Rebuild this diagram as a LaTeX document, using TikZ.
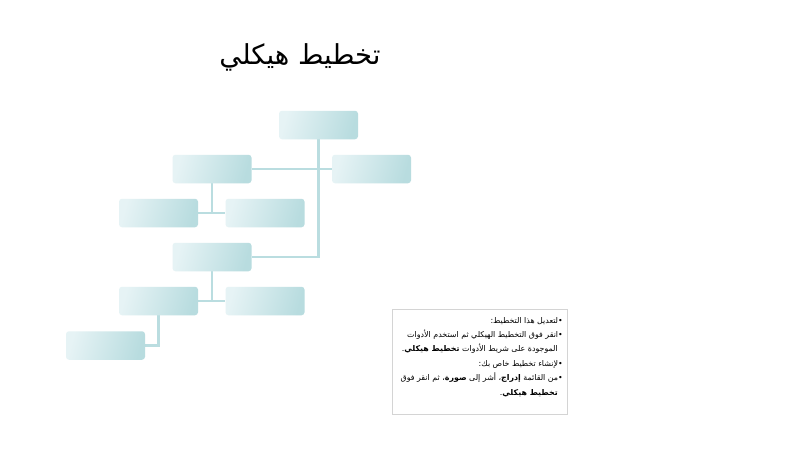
\documentclass[tikz,border=0pt]{standalone}
\usepackage{fontspec}
\newfontfamily\arabicfont[Script=Arabic]{DejaVu Sans}
\TeXXeTstate=1
\definecolor{boxA}{HTML}{E6F3F5}
\definecolor{boxB}{HTML}{B8DCDF}
\definecolor{linkC}{HTML}{BADDE0}
\definecolor{frameC}{HTML}{D4D4D4}
\pgfdeclarelayer{bg}
\pgfdeclarelayer{links}
\pgfsetlayers{bg,links,main}
\tikzset{
  orgbox/.style={minimum width=79pt, minimum height=28.5pt, inner sep=0pt,
    rounded corners=3pt, left color=boxA, right color=boxB, shading angle=75},
  link/.style={draw=linkC, line width=2.6pt},
  bodyline/.style={anchor=base east, inner sep=0pt, font=\arabicfont\fontsize{7.9}{10}\selectfont}
}
\begin{document}
\begin{tikzpicture}[x=1pt,y=-1pt]
\begin{pgfonlayer}{bg}
\fill[white] (0,0) rectangle (796,450);
\end{pgfonlayer}
\useasboundingbox (0,0) rectangle (796,450);
% title
\node[font=\arabicfont\fontsize{27.5}{32}\selectfont, inner sep=0pt] (title) at (300,57) {\beginR تخطيط هيكلي\endR};
% boxes
\node[orgbox] (top) at (318.5,125) {};
\node[orgbox] (r2l) at (212,169) {};
\node[orgbox] (r2r) at (371.5,169) {};
\node[orgbox] (r3l) at (158.5,213) {};
\node[orgbox] (r3r) at (265,213) {};
\node[orgbox] (r4) at (212,257) {};
\node[orgbox] (r5l) at (158.5,301) {};
\node[orgbox] (r5r) at (265,301) {};
\node[orgbox] (r6) at (105.5,345.5) {};
% connectors
\begin{pgfonlayer}{links}
\draw[link] (top.south) |- (r4.east);
\draw[link] (r2l.east) -- (r2r.west);
\draw[link] (r2l.south) -- (r2l.south |- r3l.east);
\draw[link] (r3l.east) -- (r3r.west);
\draw[link] (r4.south) -- (r4.south |- r5l.east);
\draw[link] (r5l.east) -- (r5r.west);
\draw[link] (r5l.south) |- (r6.east);
\end{pgfonlayer}
% text frame
\node[draw=frameC, line width=0.6pt, minimum width=175pt, minimum height=105pt, inner sep=0pt] (frame) at (479.5,361.5) {};
\node[bodyline] (t1) at (563,323) {\beginR •لتعديل هذا التخطيط:\endR};
\node[bodyline] (t2) at (563,337.4) {\beginR •انقر فوق التخطيط الهيكلي ثم استخدم الأدوات\endR};
\node[bodyline] (t3) at (558,351.8) {\beginR الموجودة على شريط الأدوات \textbf{تخطيط هيكلي}.\endR};
\node[bodyline] (t4) at (563,366.2) {\beginR •لإنشاء تخطيط خاص بك:\endR};
\node[bodyline] (t5) at (563,380.6) {\beginR •من القائمة \textbf{إدراج}، أشر إلى \textbf{صورة}، ثم انقر فوق\endR};
\node[bodyline] (t6) at (558,395) {\beginR \textbf{تخطيط هيكلي}.\endR};
\end{tikzpicture}
\end{document}
